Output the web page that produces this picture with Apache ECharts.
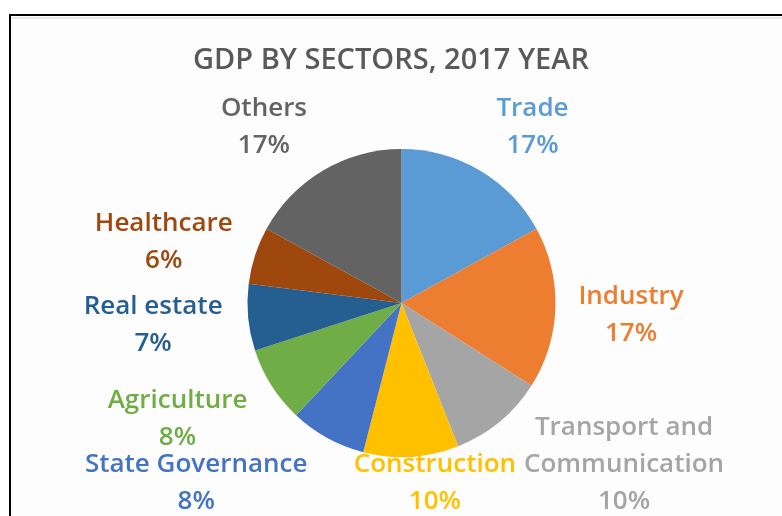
<!DOCTYPE html>
<html>
<head>
<meta charset="utf-8">
<title>GDP by sectors, 2017</title>
<script src="https://cdn.jsdelivr.net/npm/echarts@6/dist/echarts.min.js"></script>
<style>
  html, body { margin: 0; padding: 0; background: #ffffff; }
  #chart { width: 782px; height: 516px; }
</style>
</head>
<body>
<div id="chart"></div>
<script>
// Sector shares of GDP, 2017 (percent)
const sectors = [
  'Trade', 'Industry', 'Transport and Communication', 'Construction',
  'State Governance', 'Agriculture', 'Real estate', 'Healthcare', 'Others'
];
const shares = [17, 17, 10, 10, 8, 8, 7, 6, 17];
const sectorColors = [
  '#5B9BD5', '#ED7D31', '#A5A5A5', '#FFC000',
  '#4472C4', '#70AD47', '#255E91', '#9E480E', '#636363'
];
const chartTitle = 'GDP BY SECTORS, 2017 YEAR';

// Pie geometry
const CX = 401.5, CY = 303, RADIUS = 154, LABEL_GAP = 26;
// Hand-tuned label nudges (px), applied after the automatic outside placement
const labelNudge = [
  [21, 11], [-3, 5], [44, -20], [17, -36], [-65, -10],
  [-13, 0], [0, 2], [-1, 6], [-24, 11]
];

const total = shares.reduce((a, b) => a + b, 0);
const cumulative = [];
shares.reduce((acc, v, i) => { cumulative[i] = acc; return acc + v; }, 0);

// Break long names onto two lines at the space nearest the middle
function wrapName(name) {
  if (name.length <= 20) return name;
  const mid = name.length / 2;
  let best = -1;
  for (let i = 0; i < name.length; i++) {
    if (name[i] === ' ' && (best < 0 || Math.abs(i - mid) < Math.abs(best - mid))) best = i;
  }
  return best < 0 ? name : name.slice(0, best) + '\n' + name.slice(best + 1);
}

const chart = echarts.init(document.getElementById('chart'), null, { renderer: 'canvas' });

chart.setOption({
  backgroundColor: '#ffffff',
  animation: false,
  textStyle: { fontFamily: '"Open Sans", Lato, sans-serif' },
  title: {
    text: chartTitle,
    left: 'center',
    top: 46,
    padding: 0,
    textStyle: {
      fontFamily: '"Open Sans", Lato, sans-serif',
      fontSize: 29,
      fontWeight: 600,
      lineHeight: 30,
      color: '#595959'
    }
  },
  graphic: [
    {
      type: 'rect',
      z: -10,
      silent: true,
      shape: { x: 10, y: 15, width: 800, height: 600 },
      style: { fill: '#fdfdfd', stroke: '#000000', lineWidth: 2 }
    },
    {
      type: 'line',
      z: -9,
      silent: true,
      shape: { x1: 11, y1: 18, x2: 782, y2: 18 },
      style: { stroke: '#e8e8e8', lineWidth: 2 }
    }
  ],
  series: [{
    type: 'pie',
    center: [CX, CY],
    radius: RADIUS,
    startAngle: 90,
    clockwise: true,
    avoidLabelOverlap: false,
    data: sectors.map((name, i) => ({
      name: name,
      value: shares[i],
      itemStyle: { color: sectorColors[i] },
      label: { color: sectorColors[i] }
    })),
    itemStyle: { borderWidth: 0 },
    label: {
      show: true,
      position: 'outside',
      fontSize: 26,
      fontWeight: 600,
      lineHeight: 37,
      align: 'center',
      formatter: p => wrapName(p.name) + '\n' + Math.round(p.percent) + '%'
    },
    labelLine: { show: false },
    labelLayout: function (p) {
      const i = p.dataIndex;
      const mid = (cumulative[i] + shares[i] / 2) / total * 2 * Math.PI;
      const s = Math.sin(mid), c = Math.cos(mid);
      const w = p.labelRect.width / 2, h = p.labelRect.height / 2;
      const r = RADIUS + LABEL_GAP;
      const n = labelNudge[i];
      return {
        x: CX + r * s + w * s + n[0],
        y: CY - r * c - h * c + n[1],
        align: 'center',
        verticalAlign: 'middle'
      };
    },
    emphasis: { disabled: true }
  }]
});
</script>
</body>
</html>
